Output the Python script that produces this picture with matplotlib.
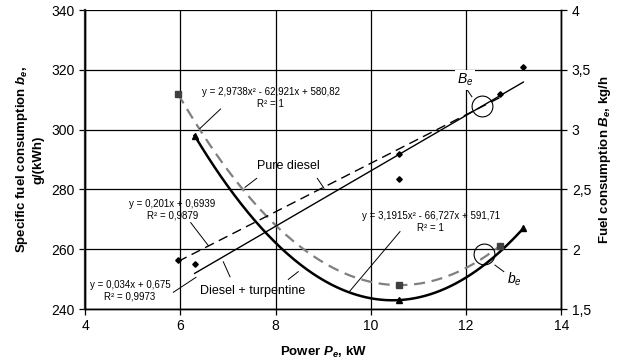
import numpy as np
import matplotlib
matplotlib.use("Agg")
import matplotlib.pyplot as plt

plt.rcParams['font.family'] = ['Liberation Sans', 'DejaVu Sans']
plt.rcParams['mathtext.fontset'] = 'custom'
plt.rcParams['mathtext.rm'] = 'Liberation Sans'
plt.rcParams['mathtext.it'] = 'Liberation Sans:italic'
plt.rcParams['mathtext.bf'] = 'Liberation Sans:bold'
plt.rcParams['mathtext.bfit'] = 'Liberation Sans:bold:italic'

# data
power_diesel = [5.95, 10.6, 12.7]
power_turp = [6.3, 10.6, 13.2]
be_diesel = [312, 248, 261]        # g/(kWh)
be_turp = [298, 243, 267]          # g/(kWh)
Be_diesel = [1.91, 2.80, 3.295]    # kg/h
Be_turp = [1.875, 2.59, 3.525]     # kg/h

x_ticks = [4, 6, 8, 10, 12, 14]
left_ticks = [240, 260, 280, 300, 320, 340]
right_ticks = [1.5, 2, 2.5, 3, 3.5, 4]
right_labels = ['1,5', '2', '2,5', '3', '3,5', '4']

fig = plt.figure(figsize=(6.17, 3.64), dpi=100)
ax = fig.add_axes([0.1378, 0.151, 0.7722, 0.8215])
ax2 = ax.twinx()

# quadratic trends for b_e
for px, py, style in [(power_diesel, be_diesel,
                       dict(color='#808080', lw=1.6, ls=(0, (5, 3)))),
                      (power_turp, be_turp, dict(color='black', lw=1.8))]:
    c = np.polyfit(px, py, 2)
    xx = np.linspace(min(px), max(px), 200)
    ax.plot(xx, np.polyval(c, xx), zorder=3, **style)

ax.plot(power_diesel, be_diesel, 's', color='#404040', ms=4.5, zorder=4)
ax.plot(power_turp, be_turp, '^', color='black', ms=4.5, zorder=4)

# linear trends for B_e
for px, py, style in [(power_diesel, Be_diesel,
                       dict(color='black', lw=1.0, ls=(0, (7, 4)))),
                      (power_turp, Be_turp, dict(color='black', lw=1.0))]:
    c = np.polyfit(px, py, 1)
    xx = np.array([min(px), max(px)])
    ax2.plot(xx, np.polyval(c, xx), zorder=3, **style)

ax2.plot(power_diesel + power_turp, Be_diesel + Be_turp, 'D', color='black',
         ms=2.8, zorder=4)

ax.set_xlim(4, 14)
ax.set_ylim(240, 340)
ax2.set_ylim(1.5, 4)
ax.set_xticks(x_ticks)
ax.set_yticks(left_ticks)
ax2.set_yticks(right_ticks)
ax2.set_yticklabels(right_labels)
ax.grid(True, color='black', lw=0.9)
ax.set_axisbelow(True)

for a in (ax, ax2):
    a.tick_params(labelsize=10, length=4, width=0.9, direction='out')
    for s in a.spines.values():
        s.set_color('black')
        s.set_linewidth(1.0)
ax.spines['left'].set_color('#333333')
ax.spines['left'].set_linewidth(1.6)
ax2.spines['top'].set_visible(False)
ax.spines['top'].set_visible(False)

ax.set_xlabel(r'Power $\mathbfit{P_e}$, kW', fontweight='bold', fontsize=9.5,
              labelpad=8)
ax.set_ylabel('Specific fuel consumption $\\mathbfit{b_e}$,\ng/(kWh)',
              fontweight='bold', fontsize=9.5, labelpad=5)
ax2.set_ylabel(r'Fuel consumption $\mathbfit{B_e}$, kg/h', fontweight='bold',
               fontsize=9.5, labelpad=4)


def leader(x0, y0, x1, y1):
    ax.plot([x0, x1], [y0, y1], color='black', lw=0.7, zorder=5)


tk = dict(fontsize=7, ha='center', va='center', multialignment='center',
          zorder=6)
ax.text(7.90, 310.5, 'y = 2,9738x² - 62,921x + 580,82\nR² = 1', **tk)
ax.text(5.83, 273.1, 'y = 0,201x + 0,6939\nR² = 0,9879', **tk)
ax.text(4.944, 246.1, 'y = 0,034x + 0,675\nR² = 0,9973', **tk)
ax.text(11.26, 269.2, 'y = 3,1915x² - 66,727x + 591,71\nR² = 1', **tk)
ax.text(8.26, 287.9, 'Pure diesel', fontsize=9, ha='center', va='center',
        zorder=6)
ax.text(7.526, 246.0, 'Diesel + turpentine', fontsize=9, ha='center',
        va='center', zorder=6)
ax.text(11.97, 316.6, r'$B_e$', fontsize=10, ha='center', va='center',
        zorder=6, bbox=dict(fc='white', ec='none', pad=1.5))
ax.text(13.02, 250.0, r'$b_e$', fontsize=10, ha='center', va='center',
        zorder=6)

leader(6.845, 306.9, 6.413, 300.4)
leader(7.603, 283.7, 7.358, 280.7)
leader(8.875, 283.7, 9.016, 280.4)
leader(6.218, 268.9, 6.588, 261.2)
leader(5.853, 245.6, 6.329, 250.6)
leader(6.902, 255.8, 7.043, 250.8)
leader(8.476, 252.5, 8.267, 249.9)
leader(10.611, 265.9, 9.547, 245.8)
leader(11.996, 313.9, 12.12, 311.0)
leader(12.604, 254.7, 12.79, 252.5)

ax.plot([12.325, 12.38], [307.9, 258.4], 'o', mfc='none', mec='black',
        mew=0.8, ms=15, zorder=5)

fig.savefig('out.png', dpi=100)
